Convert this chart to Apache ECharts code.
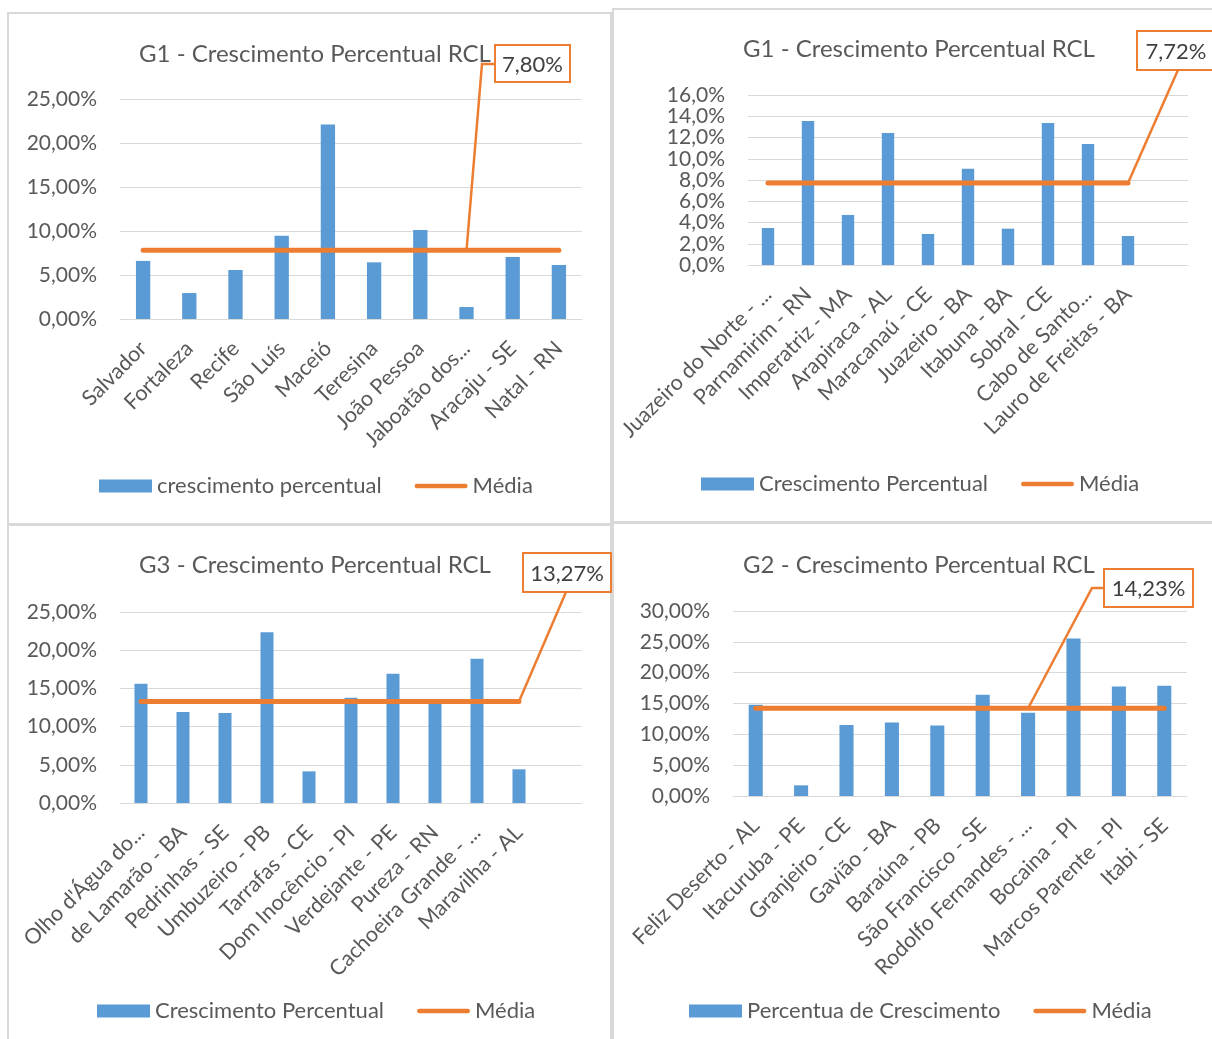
<!DOCTYPE html>
<html>
<head>
<meta charset="utf-8">
<script src="https://cdn.jsdelivr.net/npm/echarts@6/dist/echarts.min.js"></script>
<style>
  html, body { margin: 0; padding: 0; background: #ffffff; }
  #chart { width: 1212px; height: 1039px; }
</style>
</head>
<body>
<div id="chart"></div>
<script>
// ---- data (percent values) ----
const cats1 = ['Salvador', 'Fortaleza', 'Recife', 'São Luís', 'Maceió', 'Teresina', 'João Pessoa', 'Jaboatão dos...', 'Aracaju - SE', 'Natal - RN'];
const vals1 = [6.60, 2.95, 5.57, 9.47, 22.10, 6.44, 10.10, 1.36, 7.05, 6.14];
const mean1 = 7.80;

const cats2 = ['Juazeiro do Norte - ...', 'Parnamirim - RN', 'Imperatriz - MA', 'Arapiraca - AL', 'Maracanaú - CE', 'Juazeiro - BA', 'Itabuna - BA', 'Sobral - CE', 'Cabo de Santo...', 'Lauro de Freitas - BA'];
const vals2 = [3.48, 13.55, 4.71, 12.42, 2.92, 9.07, 3.42, 13.36, 11.39, 2.73];
const mean2 = 7.72;

const cats3 = ["Olho d'Água do...", 'de Lamarão - BA', 'Pedrinhas - SE', 'Umbuzeiro - PB', 'Tarrafas - CE', 'Dom Inocêncio - PI', 'Verdejante - PE', 'Pureza - RN', 'Cachoeira Grande - ...', 'Maravilha - AL'];
const vals3 = [15.62, 11.91, 11.78, 22.34, 4.14, 13.79, 16.93, 13.00, 18.89, 4.41];
const mean3 = 13.27;

const cats4 = ['Feliz Deserto - AL', 'Itacuruba - PE', 'Granjeiro - CE', 'Gavião - BA', 'Baraúna - PB', 'São Francisco - SE', 'Rodolfo Fernandes - ...', 'Bocaina - PI', 'Marcos Parente - PI', 'Itabi - SE'];
const vals4 = [14.78, 1.73, 11.53, 11.91, 11.42, 16.40, 13.48, 25.55, 17.76, 17.87];
const mean4 = 14.23;

const titles = ['G1 - Crescimento Percentual RCL', 'G1 - Crescimento Percentual RCL', 'G3 - Crescimento Percentual RCL', 'G2 - Crescimento Percentual RCL'];
const barNames = ['crescimento percentual', 'Crescimento Percentual', 'Crescimento Percentual', 'Percentua de Crescimento'];
const meanName = 'Média';

// ---- styling ----
const FONT = 'Lato, "Open Sans", sans-serif';
const BLUE = '#5B9BD5';
const ORANGE = '#ED7D31';
const TEXT = '#595959';
const GRIDLINE = '#D9D9D9';

// ---- panel layout ----
const panels = [
  { cats: cats1, vals: vals1, mean: mean1, labelAt: 7, max: 25, interval: 5, decimals: 2, slots: 10,
    frame: [8, 13, 603, 511], grid: { left: 120, top: 99, width: 462, height: 220 },
    titleAt: [310, 52], legendAt: [94, 484],
    box: { x: 495, y: 45, w: 75, h: 37 }, leader: [[482, 64], [495, 64]] },
  { cats: cats2, vals: vals2, mean: mean2, labelAt: 9, max: 16, interval: 2, decimals: 1, slots: 11,
    frame: [613, 9, 610, 513], grid: { left: 748, top: 95, width: 440, height: 170 },
    titleAt: [914, 47], legendAt: [696, 482],
    box: { x: 1137, y: 31, w: 78, h: 39 }, leader: [[1178, 70]] },
  { cats: cats3, vals: vals3, mean: mean3, labelAt: 9, max: 25, interval: 5, decimals: 2, slots: 11,
    frame: [8, 525, 603, 520], grid: { left: 120, top: 612, width: 462, height: 191 },
    titleAt: [310, 563], legendAt: [92, 1009],
    box: { x: 523, y: 553, w: 88, h: 39 }, leader: [[566, 592]] },
  { cats: cats4, vals: vals4, mean: mean4, labelAt: 6, max: 30, interval: 5, decimals: 2, slots: 10,
    frame: [613, 523, 610, 520], grid: { left: 733, top: 611, width: 454, height: 185 },
    titleAt: [914, 563], legendAt: [684, 1009],
    box: { x: 1104, y: 569, w: 89, h: 38 }, leader: [[1092, 588], [1104, 588]] }
];

function pct(v, d) {
  return v.toFixed(d).replace('.', ',') + '%';
}

const option = {
  backgroundColor: '#ffffff',
  animation: false,
  textStyle: { fontFamily: FONT },
  title: [], legend: [], grid: [], xAxis: [], yAxis: [], series: []
};

panels.forEach((p, i) => {
  const axisCats = p.cats.slice();
  while (axisCats.length < p.slots) axisCats.push('');

  option.title.push({
    text: titles[i], left: p.titleAt[0], top: p.titleAt[1] - 15, textAlign: 'center',
    textStyle: { fontFamily: FONT, fontSize: 24, fontWeight: 'normal', color: TEXT }
  });
  option.legend.push({
    left: p.legendAt[0], top: p.legendAt[1] - 14, itemWidth: 53, itemHeight: 13, itemGap: 33,
    selectedMode: false,
    textStyle: { fontFamily: FONT, fontSize: 22, color: TEXT },
    data: [
      { name: barNames[i], icon: 'rect', itemStyle: { color: BLUE } },
      { name: meanName, icon: 'path://M2.5,0 H53.5 A2.5,2.5 0 0 1 53.5,5 H2.5 A2.5,2.5 0 0 1 2.5,0 Z', itemStyle: { color: ORANGE } }
    ]
  });
  option.grid.push(Object.assign({ containLabel: false }, p.grid));
  option.xAxis.push({
    type: 'category', gridIndex: i, data: axisCats, boundaryGap: true,
    axisLine: { show: true, lineStyle: { color: GRIDLINE, width: 1 } },
    axisTick: { show: false },
    axisLabel: { interval: 0, rotate: 45, margin: 26, fontFamily: FONT, fontSize: 21.5, color: TEXT }
  });
  option.yAxis.push({
    type: 'value', gridIndex: i, min: 0, max: p.max, interval: p.interval,
    axisLine: { show: false }, axisTick: { show: false },
    splitLine: { lineStyle: { color: GRIDLINE, width: 1 } },
    axisLabel: { margin: 23, fontFamily: FONT, fontSize: 21, color: TEXT,
      formatter: v => pct(v, p.decimals) }
  });
  option.series.push({
    type: 'bar', name: barNames[i], xAxisIndex: i, yAxisIndex: i,
    data: p.vals, barWidth: '31%', itemStyle: { color: BLUE }
  });
  option.series.push({
    type: 'line', name: meanName, xAxisIndex: i, yAxisIndex: i,
    data: p.cats.map(() => p.mean), symbol: 'none', color: ORANGE,
    lineStyle: { color: ORANGE, width: 5, cap: 'round' }, z: 3
  });
});

const chart = echarts.init(document.getElementById('chart'), null, { renderer: 'canvas' });
chart.setOption(option);

// panel frames, mean labels and their leader lines
const graphics = [];
panels.forEach((p, i) => {
  graphics.push({
    type: 'rect', silent: true, z: -10,
    shape: { x: p.frame[0], y: p.frame[1], width: p.frame[2], height: p.frame[3] },
    style: { fill: 'none', stroke: GRIDLINE, lineWidth: 2 }
  });
  const anchor = chart.convertToPixel({ gridIndex: i }, [p.labelAt, p.mean]);
  graphics.push({
    type: 'polyline', silent: true, z: 50,
    shape: { points: [anchor].concat(p.leader) },
    style: { fill: 'none', stroke: ORANGE, lineWidth: 2.5 }
  });
  graphics.push({
    type: 'rect', silent: true, z: 51,
    shape: { x: p.box.x, y: p.box.y, width: p.box.w, height: p.box.h },
    style: { fill: '#ffffff', stroke: ORANGE, lineWidth: 2 }
  });
  graphics.push({
    type: 'text', silent: true, z: 52,
    x: p.box.x + p.box.w / 2, y: p.box.y + p.box.h / 2 + 1,
    style: { text: pct(p.mean, 2), align: 'center', verticalAlign: 'middle',
      font: '22px ' + FONT, fill: '#404040' }
  });
});
chart.setOption({ graphic: graphics });
</script>
</body>
</html>
